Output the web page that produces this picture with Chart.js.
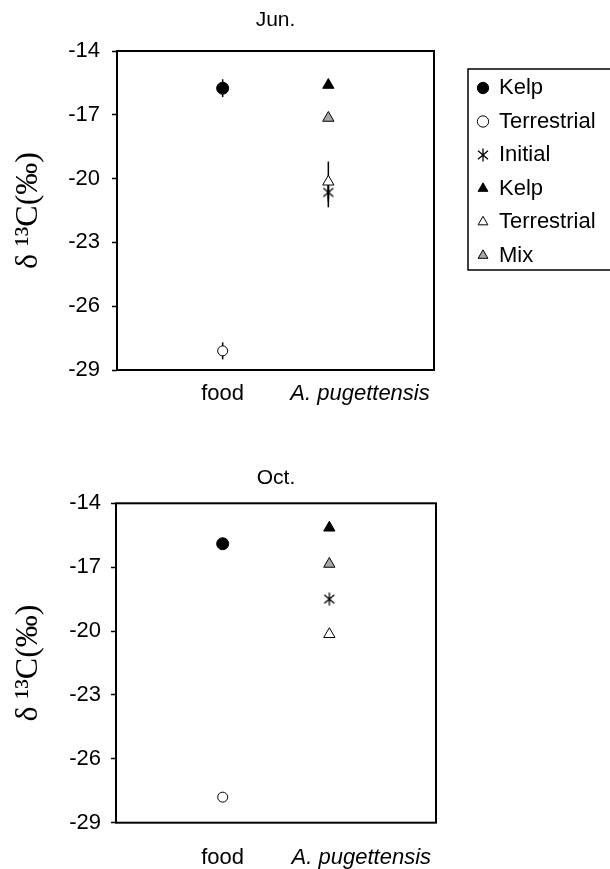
<!DOCTYPE html>
<html>
<head>
<meta charset="utf-8">
<script src="https://cdn.jsdelivr.net/npm/chart.js@4.4.1/dist/chart.umd.min.js"></script>
<style>
  html, body { margin: 0; padding: 0; background: #fff; overflow: hidden; }
  #wrap { position: relative; width: 610px; height: 869px; overflow: hidden; }
  #jun { position: absolute; left: 0; top: 0; }
  #oct { position: absolute; left: 0; top: 440px; }
</style>
</head>
<body>
<div id="wrap">
  <canvas id="jun" width="650" height="410"></canvas>
  <canvas id="oct" width="610" height="429"></canvas>
</div>
<script>
const categories = ["food", "A. pugettensis"];
const seriesNames = ["Kelp", "Terrestrial", "Initial", "Kelp", "Terrestrial", "Mix"];
const seriesCategory = [0, 0, 1, 1, 1, 1];
const junValues = [-15.75, -28.1, -20.65, -15.6, -20.15, -17.15];
const junErrors = [0.42, 0.4, 0.7, 0, 0.95, 0];
const octValues = [-15.9, -27.8, -18.5, -15.15, -20.15, -16.85];
const octErrors = [0, 0, 0, 0, 0, 0];
const yTicks = [-14, -17, -20, -23, -26, -29];

const sans = "'Liberation Sans', Arial, sans-serif";
const serif = "'Liberation Serif', 'Times New Roman', serif";

function asterisk(size) {
    const c = document.createElement("canvas");
    c.width = c.height = size;
    const g = c.getContext("2d");
    g.strokeStyle = "#000";
    g.lineWidth = 1.3;
    const m = size / 2, r = size / 2 - 0.5;
    g.beginPath();
    [90, 40, -40].forEach((a) => {
        const dx = r * Math.cos(a * Math.PI / 180), dy = r * Math.sin(a * Math.PI / 180);
        g.moveTo(m - dx, m - dy);
        g.lineTo(m + dx, m + dy);
    });
    g.stroke();
    return c;
}

const markers = [
    { style: "circle", radius: 6, fill: "#000" },
    { style: "circle", radius: 5, fill: "#fff" },
    { style: asterisk(14), radius: 7, fill: "#000" },
    { style: "triangle", radius: 6.5, fill: "#000" },
    { style: "triangle", radius: 6.5, fill: "#fff" },
    { style: "triangle", radius: 6.5, fill: "#a8a8a8" },
];

// vertical error bars, drawn under the markers
const errorBars = {
    id: "errorBars",
    beforeDatasetsDraw(chart) {
        const { ctx } = chart;
        const y = chart.scales.y;
        ctx.save();
        ctx.strokeStyle = "#000";
        ctx.lineWidth = 1.5;
        chart.data.datasets.forEach((ds, i) => {
            const meta = chart.getDatasetMeta(i);
            ds.data.forEach((pt, j) => {
                const err = ds.errors[j];
                if (!err) return;
                const px = meta.data[j].x;
                ctx.beginPath();
                ctx.moveTo(px, y.getPixelForValue(pt.y + err));
                ctx.lineTo(px, y.getPixelForValue(pt.y - err));
                ctx.stroke();
            });
        });
        ctx.restore();
    },
    afterDatasetsDraw(chart) {
        const { ctx, chartArea: a } = chart;
        ctx.save();
        ctx.strokeStyle = "#000";
        ctx.lineWidth = 2;
        ctx.strokeRect(a.left, a.top, a.right - a.left, a.bottom - a.top);
        ctx.restore();
    },
};

// moves the legend beside the plot and draws its frame
const legendSpot = {
    id: "legendSpot",
    afterLayout(chart, args, opts) {
        const lg = chart.legend;
        if (!lg || !opts.on) return;
        lg.left = opts.left;
        lg.top = opts.top;
        lg.width = 300;
        lg.height = 260;
        lg.right = lg.left + lg.width;
        lg.bottom = lg.top + lg.height;
    },
    afterDraw(chart, args, opts) {
        const lg = chart.legend;
        if (!lg || !opts.on) return;
        const ctx = chart.ctx;
        ctx.save();
        ctx.strokeStyle = "#000";
        ctx.lineWidth = 1.5;
        ctx.strokeRect(lg.left + 1.5, lg.top + 3.5, 250, 201);
        ctx.restore();
    },
};

function makeChart(id, title, values, errors, lay) {
    const datasets = seriesNames.map((name, i) => ({
        label: name,
        data: [{ x: seriesCategory[i] + 1, y: values[i] }],
        errors: [errors[i]],
        pointStyle: markers[i].style,
        pointRadius: markers[i].radius,
        pointHoverRadius: markers[i].radius,
        backgroundColor: markers[i].fill,
        borderColor: "#000",
        pointBorderWidth: 1,
        borderWidth: 1,
    }));

    return new Chart(document.getElementById(id), {
        type: "scatter",
        data: { datasets },
        plugins: [errorBars, legendSpot],
        options: {
            responsive: false,
            animation: false,
            events: [],
            layout: { padding: { left: 0, right: lay.right, top: 0, bottom: 0 } },
            scales: {
                x: {
                    type: "linear",
                    min: 0,
                    max: 3,
                    afterBuildTicks: (s) => {
                        // the italic label sits a little right of its markers
                        s.ticks = categories.map((c, i) => ({ value: i + 1 + (i === 1 ? 0.3 : 0) }));
                    },
                    afterFit: (s) => { s.height = lay.bottom; },
                    grid: { display: false, drawTicks: false },
                    border: { display: false },
                    ticks: {
                        autoSkip: false,
                        maxRotation: 0,
                        padding: lay.xPad,
                        color: "#000",
                        font: (c) => ({ family: sans, size: 22, style: c.index === 1 ? "italic" : "normal" }),
                        callback: (v, i) => categories[i],
                    },
                },
                y: {
                    min: -29,
                    max: -14,
                    afterBuildTicks: (s) => { s.ticks = yTicks.map((v) => ({ value: v })); },
                    afterFit: (s) => { s.width = lay.left; },
                    grid: {
                        drawOnChartArea: false,
                        tickLength: 5,
                        tickWidth: 1.5,
                        tickColor: "#000",
                    },
                    border: { display: false },
                    ticks: {
                        padding: lay.yPad,
                        color: "#000",
                        font: { family: sans, size: 22 },
                    },
                    title: {
                        display: true,
                        text: "δ ¹³C(‰)",
                        color: "#000",
                        padding: { top: 13, bottom: 0 },
                        font: { family: serif, size: 32, lineHeight: 1 },
                    },
                },
            },
            plugins: {
                title: {
                    display: true,
                    text: title,
                    fullSize: false,
                    color: "#000",
                    font: { family: sans, size: 21, weight: "normal", lineHeight: 1.2 },
                    padding: { top: lay.tTop, bottom: lay.tBottom },
                },
                legend: {
                    display: lay.legend,
                    position: "chartArea",
                    align: "start",
                    labels: {
                        usePointStyle: true,
                        boxWidth: 10,
                        boxHeight: 8,
                        padding: 11.5,
                        color: "#000",
                        font: { family: sans, size: 22 },
                    },
                },
                legendSpot: { on: lay.legend, left: 466.5, top: 65.5 },
                tooltip: { enabled: false },
            },
        },
    });
}

makeChart("jun", "Jun.", junValues, junErrors, {
    left: 117, right: 216, bottom: 40, tTop: 7.4, tBottom: 18.4, xPad: 11, yPad: 12, legend: true,
});
makeChart("oct", "Oct.", octValues, octErrors, {
    left: 116, right: 174, bottom: 46.3, tTop: 25.7, tBottom: 12.4, xPad: 22, yPad: 10, legend: false,
});
</script>
</body>
</html>
